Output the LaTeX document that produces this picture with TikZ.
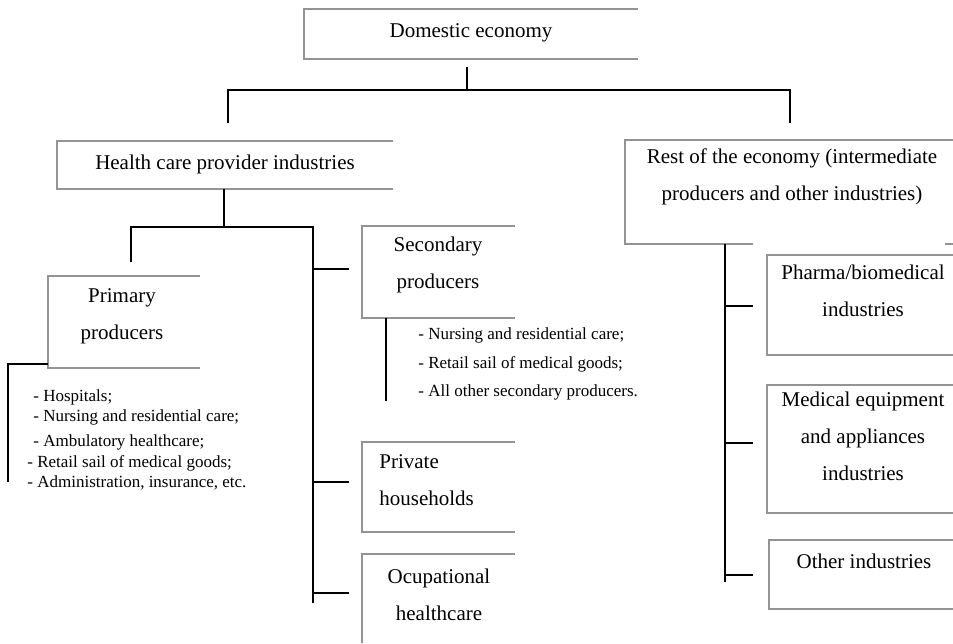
\documentclass[tikz,border=0pt]{standalone}
\usepackage{fontspec}
\setmainfont{Liberation Serif}

\tikzset{
  frame/.style={draw=black!42, line width=1.1pt},
  link/.style={draw=black, line width=1pt},
  label/.style={align=center, inner sep=0pt, font=\fontsize{10.5}{18.5}\selectfont},
  items/.style={align=left, inner sep=0pt, anchor=west},
}
% open box: left, top, right, bottom (no right side)
\newcommand{\openframe}[4]{\draw[frame] (#3,#2) -- (#1,#2) -- (#1,#4) -- (#3,#4);}

\begin{document}
\begin{tikzpicture}[x=0.5pt, y=-0.5pt]
    \useasboundingbox (0,0) rectangle (953,643);

    % frames
    \openframe{304}{9}{638}{59}
    \openframe{57}{141}{393}{189}
    \openframe{48}{276}{200}{368}
    \openframe{362}{226}{515}{318}
    \openframe{362}{442}{515}{532}
    \draw[frame] (515,554) -- (362,554) -- (362,643);
    \draw[frame] (753,244) -- (625,244) -- (625,140) -- (953,140);
    \draw[frame] (945,244) -- (953,244);
    \openframe{767}{255}{953}{355}
    \openframe{767}{385}{953}{513}
    \openframe{769}{540}{953}{609}

    % boxes
    \node[label] (dom) at (471,33) {Domestic economy};
    \node[label] (health) at (225,164) {Health care provider industries};
    \node[label] (rest) at (792,177) {Rest of the economy (intermediate\\producers and other industries)};
    \node[label] (primary) at (122,316) {Primary\\producers};
    \node[label] (secondary) at (438,265) {Secondary\\producers};
    \node[label, align=left, anchor=west] (private) at (379,480) {Private\\households};
    \node[label] (occup) at (439,595) {Ocupational\\healthcare};
    \node[label] (pharma) at (863,291) {Pharma/biomedical\\industries};
    \node[label] (medeq) at (863,436) {Medical equipment\\and appliances\\industries};
    \node[label] (otherind) at (864,561) {Other industries};

    % lists
    \node[items, font=\fontsize{8.5}{10.3}\selectfont] (plist) at (27,440)
      {\hspace{3pt}- Hospitals;\\[0pt]\hspace{3pt}- Nursing and residential care;\\[2pt]\hspace{3pt}- Ambulatory healthcare;\\- Retail sail of medical goods;\\- Administration, insurance, etc.};
    \node[items, font=\fontsize{8.5}{14.3}\selectfont] (slist) at (418,364)
      {- Nursing and residential care;\\- Retail sail of medical goods;\\- All other secondary producers.};

    % junctions
    \coordinate (dom-out) at (467,67);
    \coordinate (top-mid) at (467,90);
    \coordinate (top-l) at (228,90);
    \coordinate (top-r) at (790,90);
    \coordinate (health-in) at (228,123);
    \coordinate (rest-in) at (790,123);
    \coordinate (health-out) at (224,189);
    \coordinate (hp-mid) at (224,227);
    \coordinate (hp-l) at (131,227);
    \coordinate (hp-r) at (313,227);
    \coordinate (primary-in) at (131,262);
    \coordinate (hp-end) at (313,603);
    \coordinate (sec-j) at (313,269);
    \coordinate (sec-in) at (349,269);
    \coordinate (priv-j) at (313,482);
    \coordinate (priv-in) at (349,482);
    \coordinate (occ-j) at (313,593);
    \coordinate (occ-in) at (349,593);
    \coordinate (plist-top) at (48,364);
    \coordinate (plist-j) at (8,364);
    \coordinate (plist-end) at (8,482);
    \coordinate (slist-top) at (386,318);
    \coordinate (slist-end) at (386,401);
    \coordinate (rest-out) at (725,244);
    \coordinate (rest-end) at (725,582);
    \coordinate (ph-j) at (725,306);
    \coordinate (ph-in) at (753,306);
    \coordinate (me-j) at (725,443);
    \coordinate (me-in) at (753,443);
    \coordinate (ot-j) at (725,575);
    \coordinate (ot-in) at (753,575);

    % connectors
    \draw[link] (dom-out) -- (top-mid);
    \draw[link] (health-in) -- (top-l) -- (top-r) -- (rest-in);
    \draw[link] (health-out) -- (hp-mid);
    \draw[link] (primary-in) -- (hp-l) -- (hp-r) -- (hp-end);
    \draw[link] (sec-j) -- (sec-in);
    \draw[link] (priv-j) -- (priv-in);
    \draw[link] (occ-j) -- (occ-in);
    \draw[link] (plist-top) -- (plist-j) -- (plist-end);
    \draw[link] (slist-top) -- (slist-end);
    \draw[link] (rest-out) -- (rest-end);
    \draw[link] (ph-j) -- (ph-in);
    \draw[link] (me-j) -- (me-in);
    \draw[link] (ot-j) -- (ot-in);
\end{tikzpicture}
\end{document}
